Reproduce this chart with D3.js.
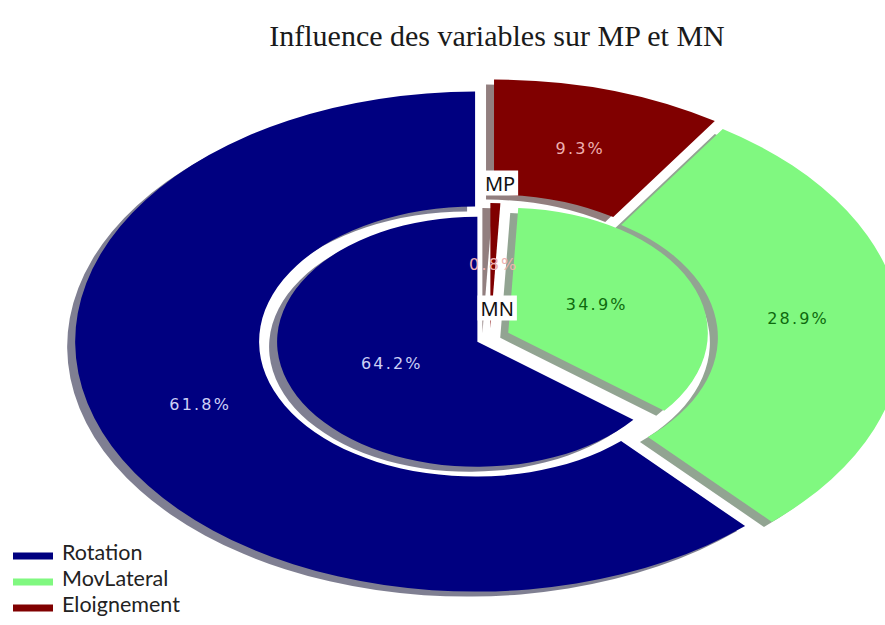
<!DOCTYPE html>
<html>
<head>
<meta charset="utf-8">
<script src="https://cdn.jsdelivr.net/npm/d3@7"></script>
<style>
  html, body { margin: 0; padding: 0; background: #ffffff; }
  svg { display: block; }
</style>
</head>
<body>
<svg id="chart" width="885" height="625"></svg>
<script>
// Shares of each variable for the two measures
const categories = ["Rotation", "MovLateral", "Eloignement"];
const mpValues = [61.8, 28.9, 9.3];   // outer ring (MP)
const mnValues = [64.2, 34.9, 0.8];   // inner pie (MN)
const ringNames = ["MP", "MN"];
const titleText = "Influence des variables sur MP et MN";

const svg = d3.select("#chart");

// Unit-circle space mapped onto a wide ellipse
const x = d3.scaleLinear().domain([-1, 1]).range([90, 890]);
const y = d3.scaleLinear().domain([-1, 1]).range([88, 588]);
const sx = x(1) - x(0), sy = y(1) - y(0);

const fill = d3.scaleOrdinal(categories, ["#000080", "#80f880", "#800000"]);
const textFill = d3.scaleOrdinal(categories, ["#cdd0f6", "#0e6a0e", "#eeb0b0"]);

// Counter-clockwise from 12 o'clock, in the given order
const pie = d3.pie().sort(null).startAngle(0).endAngle(-2 * Math.PI);
const midAngle = d => (d.startAngle + d.endAngle) / 2;

function shadowOf(c) {
  const r = d3.rgb(c);
  return d3.rgb(r.r * 0.3, r.g * 0.3, r.b * 0.3).toString();
}

function drawRing(values, innerR, outerR, explode, pctR) {
  const arcs = pie(values).map((d, i) => ({ ...d, cat: categories[i], ex: explode[i] }));
  const arc = d3.arc().innerRadius(innerR).outerRadius(outerR);
  const shift = d => {
    const a = midAngle(d);
    return [Math.sin(a) * d.ex, -Math.cos(a) * d.ex];
  };
  const g = svg.append("g")
    .attr("transform", `translate(${x(0)},${y(0)}) scale(${sx},${sy})`);

  // drop shadows, offset down-left
  g.append("g").selectAll("path").data(arcs).join("path")
    .attr("d", arc)
    .attr("transform", d => { const [ox, oy] = shift(d); return `translate(${ox - 0.02},${oy + 0.02})`; })
    .attr("fill", d => shadowOf(fill(d.cat)))
    .attr("fill-opacity", 0.5);

  // wedges
  g.append("g").selectAll("path").data(arcs).join("path")
    .attr("d", arc)
    .attr("transform", d => { const [ox, oy] = shift(d); return `translate(${ox},${oy})`; })
    .attr("fill", d => fill(d.cat));

  // percentage labels
  svg.append("g").selectAll("text").data(arcs).join("text")
    .attr("x", d => x(Math.sin(midAngle(d)) * (pctR + d.ex)) + 1)
    .attr("y", d => y(-Math.cos(midAngle(d)) * (pctR + d.ex)) - 4)
    .attr("text-anchor", "middle")
    .attr("dominant-baseline", "central")
    .attr("font-family", "DejaVu Sans, Verdana, sans-serif")
    .attr("font-size", 16)
    .attr("letter-spacing", 2.2)
    .attr("fill", d => textFill(d.cat))
    .text(d => d.value.toFixed(1) + "%");
}

drawRing(mpValues, 0.54, 1.0, [0.04, 0.03, 0.035], 0.74);
drawRing(mnValues, 0, 0.5, [0.035, 0.05, 0.04], 0.24);

// Ring name tags with white boxes
const tagPos = [[0.025, -0.62], [0.018, -0.12]];
ringNames.forEach((name, i) => {
  const tg = svg.append("g");
  const t = tg.append("text")
    .attr("x", x(tagPos[i][0]))
    .attr("y", y(tagPos[i][1]))
    .attr("text-anchor", "middle")
    .attr("dominant-baseline", "central")
    .attr("font-family", "Noto Sans, Open Sans, sans-serif")
    .attr("font-size", 20)
    .attr("fill", "#111")
    .text(name);
  const b = t.node().getBBox();
  tg.insert("rect", "text")
    .attr("x", b.x - 3).attr("y", b.y + 1)
    .attr("width", b.width + 6).attr("height", b.height - 2)
    .attr("fill", "#ffffff");
});

// Title
svg.append("text")
  .attr("x", 497).attr("y", 46)
  .attr("text-anchor", "middle")
  .attr("font-family", "Liberation Serif, Times New Roman, serif")
  .attr("font-size", 30)
  .attr("fill", "#1a1a1a")
  .text(titleText);

// Legend
const legend = svg.append("g").attr("transform", "translate(13,556)");
const rows = legend.selectAll("g").data(categories).join("g")
  .attr("transform", (d, i) => `translate(0,${i * 26})`);
rows.append("rect")
  .attr("x", 0).attr("y", -3.5).attr("width", 40).attr("height", 7)
  .attr("fill", d => fill(d));
rows.append("text")
  .attr("x", 49).attr("y", 4)
  .attr("font-family", "Lato, Open Sans, sans-serif")
  .attr("font-size", 21.5)
  .attr("fill", "#222")
  .text(d => d);
</script>
</body>
</html>
